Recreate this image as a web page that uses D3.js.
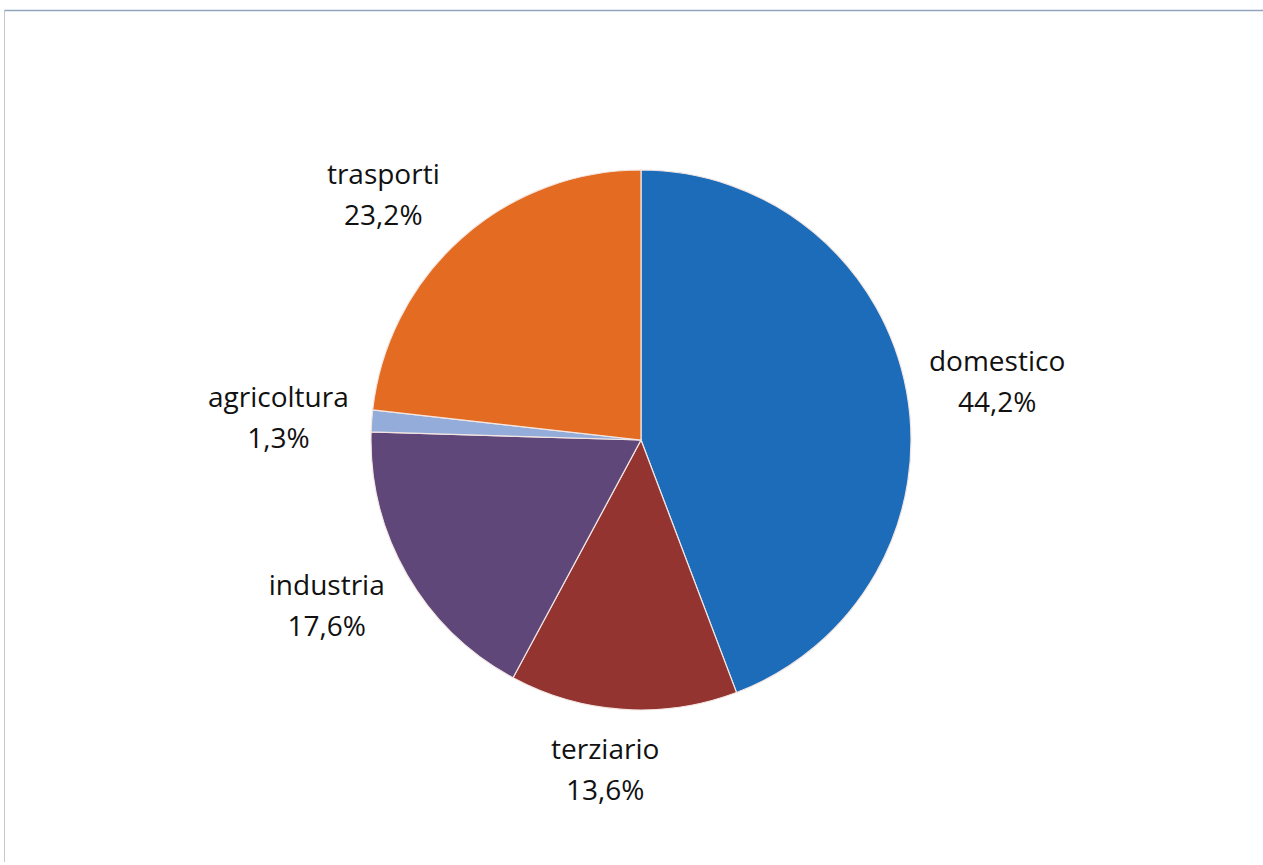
<!DOCTYPE html>
<html>
<head>
<meta charset="utf-8">
<script src="https://cdn.jsdelivr.net/npm/d3@7"></script>
<style>
  html, body { margin: 0; padding: 0; background: #fff; }
  svg { display: block; }
  text { font-variant-ligatures: none; }
</style>
</head>
<body>
<svg id="chart" width="1263" height="865"></svg>
<script>
const categories = ["domestico", "terziario", "industria", "agricoltura", "trasporti"];
const values = [44.2, 13.6, 17.6, 1.3, 23.2];
const valueLabels = ["44,2%", "13,6%", "17,6%", "1,3%", "23,2%"];
const colors = ["#1c6cb9", "#933431", "#5f477a", "#93acd9", "#e46c22"];

const svg = d3.select("#chart");
const W = 1263, H = 865;

// frame
svg.append("line").attr("x1", 4).attr("x2", W).attr("y1", 10.5).attr("y2", 10.5)
  .attr("stroke", "#8fa6bd").attr("stroke-width", 1.5);
svg.append("line").attr("x1", 4.5).attr("x2", 4.5).attr("y1", 10).attr("y2", 862)
  .attr("stroke", "#c8c8c8").attr("stroke-width", 1);

const cx = 641, cy = 440, r = 270;
const data = categories.map((c, i) => ({ name: c, value: values[i], label: valueLabels[i], color: colors[i] }));

const pie = d3.pie().value(d => d.value).sort(null);
const arcs = pie(data);
const arc = d3.arc().innerRadius(0).outerRadius(r);

const g = svg.append("g").attr("transform", `translate(${cx},${cy})`);
g.selectAll("path").data(arcs).join("path")
  .attr("d", arc)
  .attr("fill", d => d.data.color)
  .attr("stroke", "#f3e6e2")
  .attr("stroke-width", 1.2);

// labels (best-fit style outside the pie)
const rx = 362, ry = 330;
const fontSize = 28, lineGap = 41;
const lbl = g.selectAll("g.lbl").data(arcs).join("g").attr("class", "lbl")
  .attr("transform", d => {
    const a = (d.startAngle + d.endAngle) / 2;
    const s = Math.sin(a), c = Math.cos(a);
    let pull = 0;
    if (s < 0) pull = c > 0 ? 22 * c : 12 * Math.pow(c, 4);
    return `translate(${rx * s - pull},${-ry * c})`;
  });
lbl.append("text")
  .attr("text-anchor", "middle")
  .attr("y", -10)
  .attr("font-family", "'Open Sans', sans-serif")
  .attr("font-size", fontSize)
  .attr("fill", "#111")
  .text(d => d.data.name);
lbl.append("text")
  .attr("text-anchor", "middle")
  .attr("y", -10 + lineGap)
  .attr("font-family", "'Open Sans', sans-serif")
  .attr("font-size", fontSize)
  .attr("fill", "#111")
  .text(d => d.data.label);
</script>
</body>
</html>
